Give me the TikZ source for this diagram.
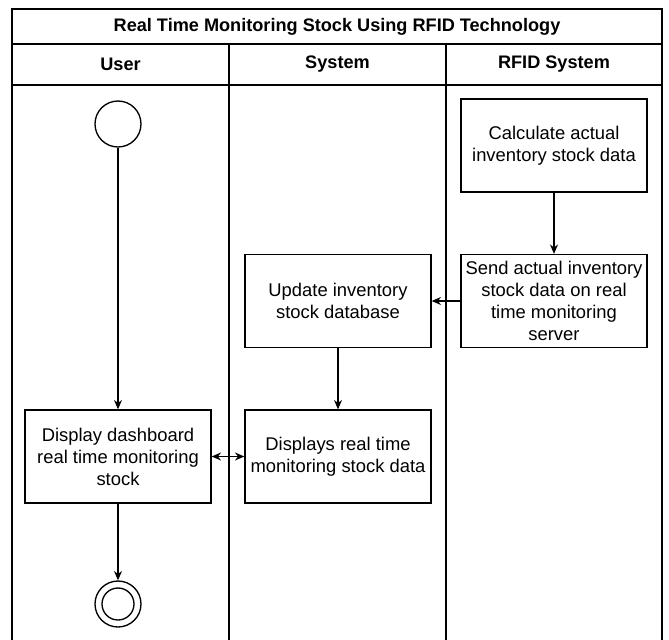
\documentclass[tikz,border=0pt]{standalone}
\usepackage{fontspec}
\setmainfont{Liberation Sans}
\usetikzlibrary{arrows.meta,positioning}
\tikzset{
  lane/.style={line width=1pt},
  act/.style={draw,line width=1pt,minimum width=139.5pt,minimum height=69.75pt,align=center,inner sep=1pt,font=\fontsize{13.8}{16.5}\selectfont},
  head/.style={font=\bfseries\fontsize{13.6}{15}\selectfont},
  flow/.style={line width=1pt,-{Stealth[length=7pt,width=6pt]}},
}
\begin{document}
\begin{tikzpicture}[x=0.75pt,y=-0.75pt]
        \useasboundingbox (0,0) rectangle (669,640);
        % swimlanes
        \draw[lane] (12,640)--(12,9)--(662,9)--(662,640);
        \draw[lane] (12,44)--(662,44);
        \draw[lane] (12,85)--(662,85);
        \draw[lane] (229,44)--(229,640);
        \draw[lane] (446,44)--(446,640);
        \node[head](title)at(337,26.5){Real Time Monitoring Stock Using RFID Technology};
        \node[head](user)at(120.5,64.5){User};
        \node[head](sys)at(337.5,64.5){System};
        \node[head](rfid)at(554,64.5){RFID System};
        % activities
        \node[circle,draw,line width=1pt,minimum size=34.5pt,inner sep=0pt](start)at(118,124){};
        \node[act](dash)at(118,456.5){Display dashboard\\real time monitoring\\stock};
        \node[circle,draw,line width=1pt,minimum size=34.5pt,inner sep=0pt](stop)at(118,604){};
        \node[circle,draw,line width=1pt,minimum size=24pt,inner sep=0pt](stopin)at(118,604){};
        \node[act](upd)at(338,301){Update inventory\\stock database};
        \node[act](disp)at(338,456.5){Displays real time\\monitoring stock data};
        \node[act](calc)at(554,145.5){Calculate actual\\inventory stock data};
        \node[act](send)at(554,301){Send actual inventory\\stock data on real\\time monitoring\\server};
        % flows
        \draw[flow](start)--(dash);
        \draw[flow](dash)--(stop);
        \draw[flow](calc)--(send);
        \draw[flow](send)--(upd);
        \draw[flow](upd)--(disp);
        \draw[flow,{Stealth[length=7pt,width=6pt]}-{Stealth[length=7pt,width=6pt]}](dash)--(disp);
    \end{tikzpicture}
\end{document}
